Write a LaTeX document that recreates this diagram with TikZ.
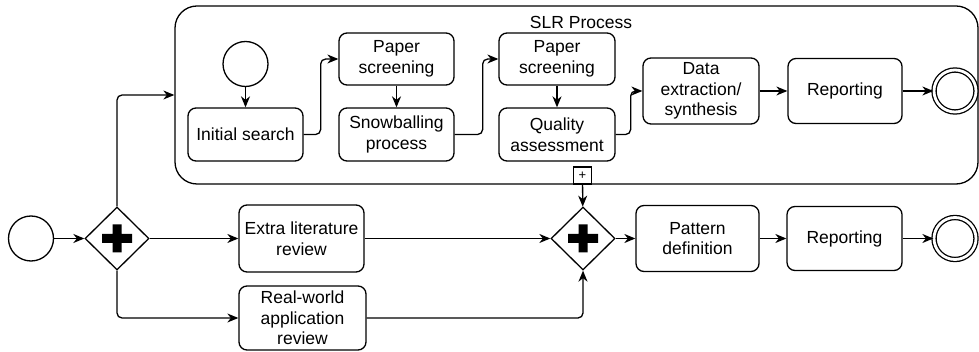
\documentclass[tikz,border=0pt]{standalone}
\usepackage{fontspec}
\setmainfont{Liberation Sans}
\usepackage{tikz}
\usetikzlibrary{arrows.meta,shapes.geometric}

\begin{document}
\begin{tikzpicture}[x=1pt,y=-1pt,line width=1.3pt,
  task/.style={draw,rounded corners=8pt,align=center,inner sep=0pt,font=\fontsize{17.5}{20.5}\selectfont},
  startev/.style={draw,circle,minimum size=45pt,inner sep=0pt},
  endev/.style={draw,circle,double,double distance=2.8pt,minimum size=42pt,inner sep=0pt},
  gate/.style={draw,diamond,minimum width=64pt,minimum height=63pt,inner sep=0pt,
    path picture={\fill[shift={(path picture bounding box.center)}] (-15pt,-4.5pt) rectangle (15pt,4.5pt) (-4.5pt,-14pt) rectangle (4.5pt,14pt);}},
  flow/.style={-{Stealth[length=11pt 0,width=9pt 0,inset=3.5pt]},rounded corners=5pt}]
  \useasboundingbox (0,0) rectangle (979,352);

  \node[draw,rounded corners=22pt,minimum width=803pt,minimum height=178pt] (slr) at (576.5,95) {};
  \node[font=\fontsize{17.5}{20.5}\selectfont] (slrtitle) at (581,22) {SLR Process};
  \node[draw,fill=white,minimum width=18pt,minimum height=17pt,inner sep=0pt,font=\fontsize{13}{13}\selectfont] (sub) at (582.5,175.5) {+};

  \node[startev] (start1) at (245.5,64) {};
  \node[task,minimum width=115pt,minimum height=53pt] (init) at (245.5,134.5) {Initial search};
  \node[task,minimum width=115pt,minimum height=52pt] (ps1) at (396.5,59) {Paper\\screening};
  \node[task,minimum width=115pt,minimum height=53pt] (snow) at (396.5,134.5) {Snowballing\\process};
  \node[task,minimum width=116pt,minimum height=52pt] (ps2) at (557,59) {Paper\\screening};
  \node[task,minimum width=116pt,minimum height=53pt] (qa) at (557,134.5) {Quality\\assessment};
  \node[task,minimum width=116pt,minimum height=66pt] (data) at (701,91) {Data\\extraction/\\synthesis};
  \node[task,minimum width=114pt,minimum height=65pt] (rep1) at (845,91) {Reporting};
  \node[endev] (end1) at (955,91) {};

  \node[startev] (start0) at (31,238.5) {};
  \node[gate] (gw1) at (117,238.5) {};
  \node[task,minimum width=125pt,minimum height=67pt] (extra) at (301.5,238.5) {Extra literature\\review};
  \node[task,minimum width=127pt,minimum height=64pt] (real) at (302.5,318) {Real-world\\application\\review};
  \node[gate] (gw2) at (583,238.5) {};
  \node[task,minimum width=123pt,minimum height=66pt] (pat) at (697.5,238.5) {Pattern\\definition};
  \node[task,minimum width=115pt,minimum height=64pt] (rep2) at (844.5,238.5) {Reporting};
  \node[endev] (end2) at (955,238.5) {};

  \draw[flow] (start1) -- (init);
  \draw[flow] (init.east) -- ++(17,0) |- (ps1.west);
  \draw[flow] (ps1) -- (snow);
  \draw[flow] (snow.east) -- ++(28,0) |- (ps2.west);
  \draw[flow] (ps2) -- (qa);
  \draw[flow] (qa.east) -- ++(15,0) |- (data.west);
  \draw[flow] (data) -- (rep1);
  \draw[flow] (rep1) -- (end1);

  \draw[flow] (start0) -- (gw1);
  \draw[flow] (gw1.north) |- (slr.west);
  \draw[flow] (gw1) -- (extra);
  \draw[flow] (gw1.south) |- (real.west);
  \draw[flow] (extra) -- (gw2);
  \draw[flow] (real.east) -| (gw2.south);
  \draw[flow] (sub) -- (gw2);
  \draw[flow] (gw2) -- (pat);
  \draw[flow] (pat) -- (rep2);
  \draw[flow] (rep2) -- (end2);
\end{tikzpicture}
\end{document}
